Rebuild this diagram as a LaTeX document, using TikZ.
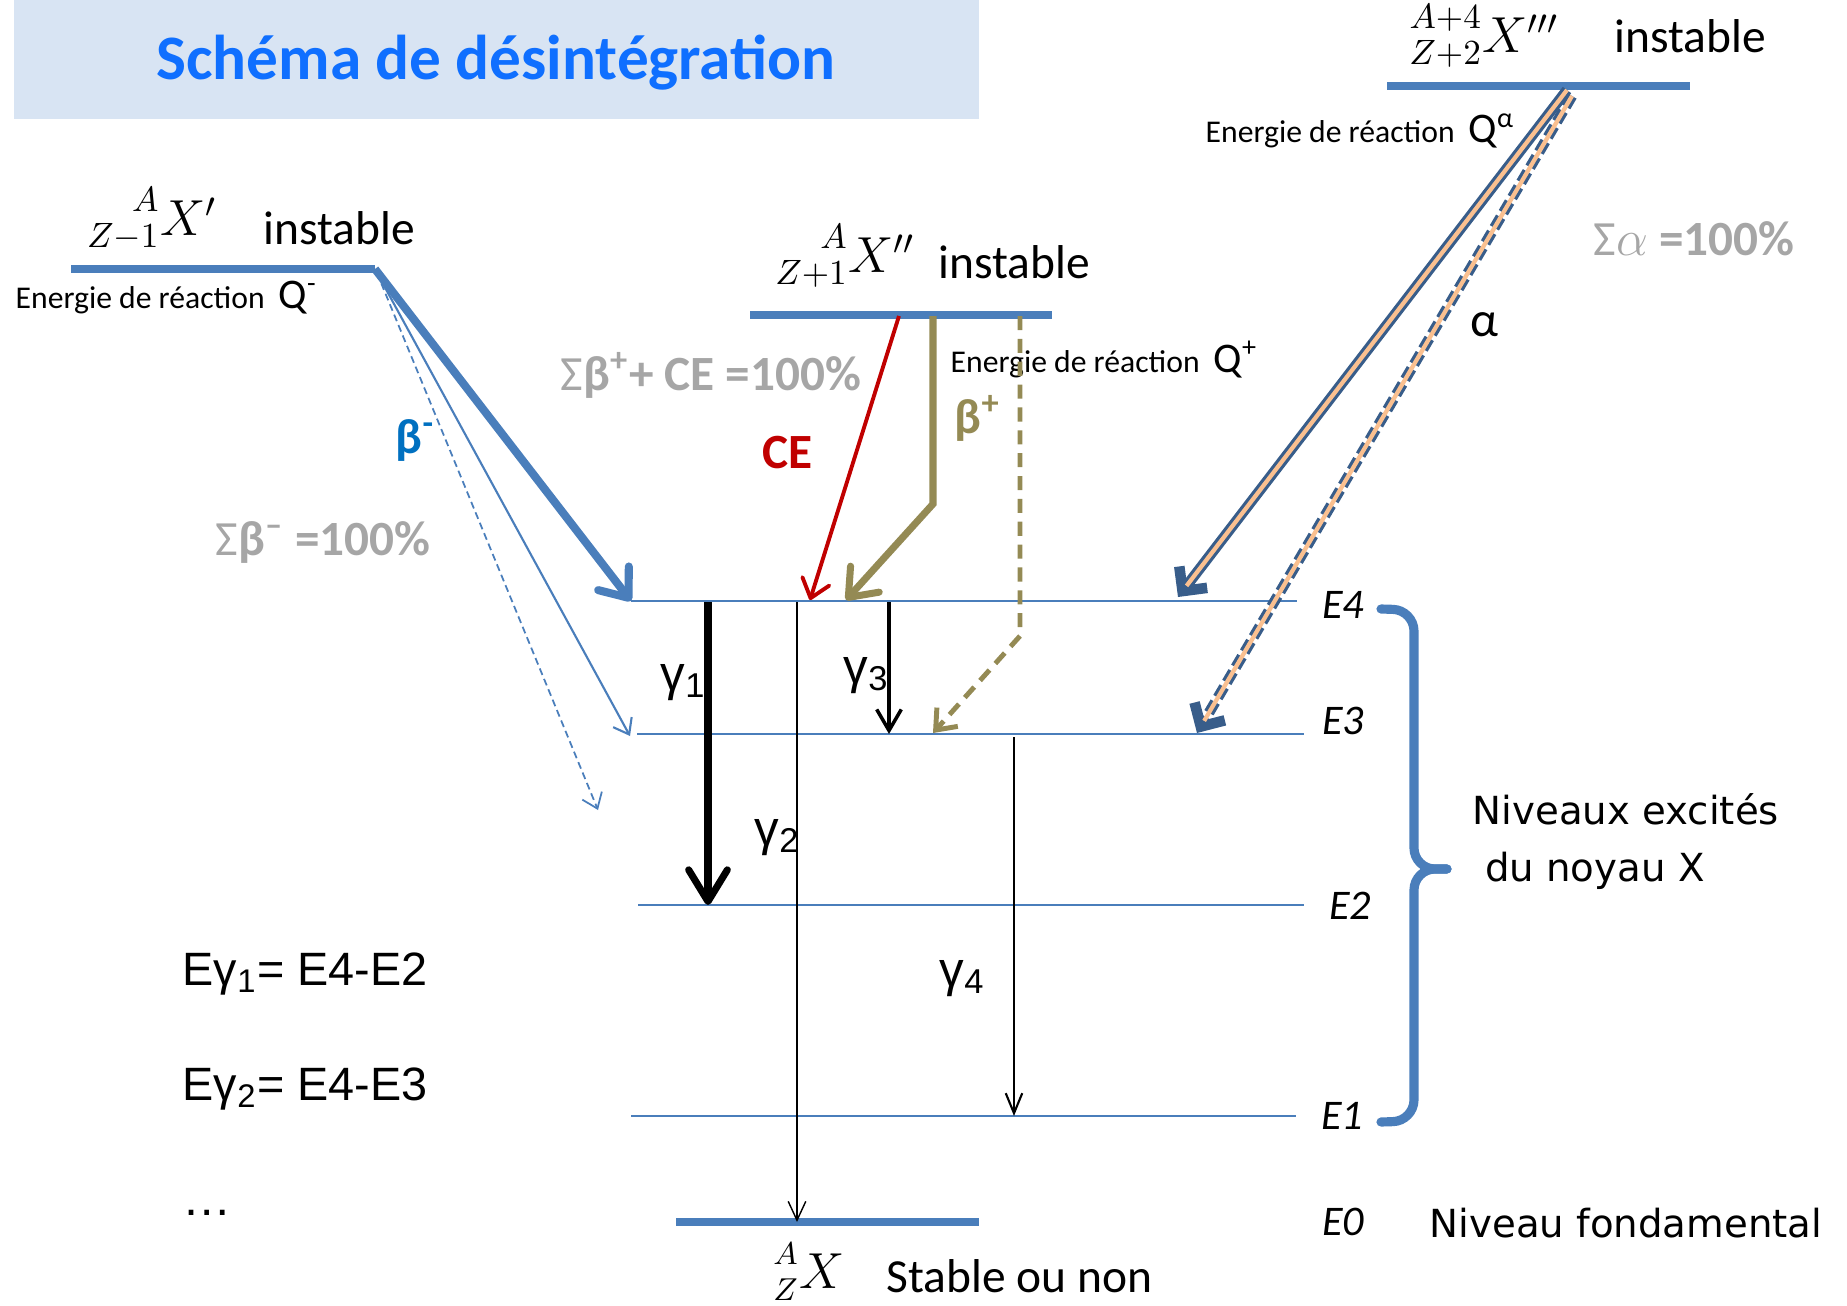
\documentclass[tikz,border=0pt]{standalone}
\usepackage{fontspec}
\usepackage{mathtools}
\setmainfont{Carlito}
\newfontfamily\arialfont{Liberation Sans}
\newfontfamily\verdanafont{DejaVu Sans}
\usetikzlibrary{arrows.meta}
\definecolor{DecayLevel}{HTML}{4A7EBB}
\definecolor{DecayBanner}{HTML}{D8E4F3}
\definecolor{DecayTitle}{HTML}{0F6FFF}
\definecolor{DecayGrey}{HTML}{A6A6A6}
\definecolor{DecayBeta}{HTML}{0070C0}
\definecolor{DecayRed}{HTML}{C00000}
\definecolor{DecayOlive}{HTML}{948A54}
\definecolor{DecayAlpha}{HTML}{385D8A}
\definecolor{DecayPeach}{HTML}{FAC090}

\begin{document}
\begin{tikzpicture}[x=0.01cm,y=-0.01cm,
    thick level/.style={DecayLevel,line width=2.4pt},
    thin level/.style={DecayLevel,line width=0.6pt},
    body/.style={inner sep=0pt,font=\fontsize{13.5}{16}\selectfont},
    small/.style={inner sep=0pt,font=\fontsize{9}{11}\selectfont},
    sigma/.style={inner sep=0pt,text=DecayGrey,font=\bfseries\fontsize{14}{16}\selectfont},
    gamma/.style={inner sep=0pt,font=\arialfont\fontsize{14}{16}\selectfont},
    energy/.style={inner sep=0pt,font=\itshape\fontsize{12}{14}\selectfont},
    nucleus/.style={inner sep=0pt,font=\fontsize{14.4}{16}\selectfont}]
  \useasboundingbox (0,0) rectangle (1847,1306);

  % banner
  \fill[DecayBanner] (14,0) rectangle (979,119);
  \node[anchor=base,inner sep=0pt,text=DecayTitle,
    font=\bfseries\fontsize{18}{20}\selectfont] (title) at (496,80)
    {Schéma de désintégration};

  % levels
  \coordinate (xpL) at (71,269);   \coordinate (xpR) at (375,269);
  \coordinate (xsL) at (750,315);  \coordinate (xsR) at (1052,315);
  \coordinate (xtL) at (1387,86);  \coordinate (xtR) at (1690,86);
  \coordinate (e4L) at (631,601);  \coordinate (e4R) at (1297,601);
  \coordinate (e3L) at (637,734);  \coordinate (e3R) at (1304,734);
  \coordinate (e2L) at (638,905);  \coordinate (e2R) at (1304,905);
  \coordinate (e1L) at (631,1116); \coordinate (e1R) at (1296,1116);
  \coordinate (e0L) at (676,1222); \coordinate (e0R) at (979,1222);
  \draw[thick level] (xpL) -- (xpR);
  \draw[thick level] (xsL) -- (xsR);
  \draw[thick level] (xtL) -- (xtR);
  \draw[thick level] (e0L) -- (e0R);
  \draw[thin level] (e4L) -- (e4R);
  \draw[thin level] (e3L) -- (e3R);
  \draw[thin level] (e2L) -- (e2R);
  \draw[thin level] (e1L) -- (e1R);

  % parent nuclei
  \node[nucleus] (xprime) at (152,219) {$\prescript{A}{Z-1}{X'}$};
  \node[body,anchor=base west] (instA) at (263,245) {instable};
  \node[small,anchor=base west] (qminus) at (15,308)
    {Energie de réaction\hspace{4pt}{\fontsize{12}{14}\selectfont Q\textsuperscript{-}}};
  \node[nucleus] (xsecond) at (845,256) {$\prescript{A}{Z+1}{X''}$};
  \node[body,anchor=base west] (instB) at (938,278) {instable};
  \node[small,anchor=base west] (qplus) at (950,372)
    {Energie de réaction\hspace{4pt}{\fontsize{12}{14}\selectfont Q\textsuperscript{+}}};
  \node[nucleus] (xthird) at (1484,36) {$\prescript{A+4}{Z+2}{X'''}$};
  \node[body,anchor=base west] (instC) at (1614,53) {instable};
  \node[small,anchor=base west] (qalpha) at (1205,143)
    {Energie de réaction\hspace{4pt}{\fontsize{12}{14}\selectfont Q\textsuperscript{α}}};

  % beta minus
  \coordinate (bmA) at (376,271); \coordinate (bmB) at (377,273);
  \coordinate (bm3) at (630,736); \coordinate (bmX) at (598,810);
  \draw[DecayLevel,line width=2.3pt,-{Straight Barb[round,length=7pt,width=11pt]}] (xpR) -- (e4L);
  \draw[DecayLevel,line width=0.6pt,-{Straight Barb[length=4pt,width=6pt]}] (bmA) -- (bm3);
  \draw[DecayLevel,line width=0.5pt,dash pattern=on 2pt off 1.2pt,
    -{Straight Barb[length=4pt,width=6pt]}] (bmB) -- (bmX);
  \node[anchor=base west,inner sep=0pt,text=DecayBeta,font=\bfseries\fontsize{14}{16}\selectfont]
    (betaminus) at (395,453) {β\textsuperscript{-}};
  \node[sigma,anchor=base west] (summinus) at (215,555) {{\mdseries Σ}β\textsuperscript{–} =100\%};

  % beta plus and electron capture
  \coordinate (ceA) at (899,316);  \coordinate (ceB) at (810,600);
  \coordinate (bpA) at (933,316);  \coordinate (bpK) at (933,504);  \coordinate (bpB) at (846,600);
  \coordinate (bqA) at (1020,316); \coordinate (bqK) at (1020,636); \coordinate (bqB) at (933,733);
  \draw[DecayRed,line width=1.1pt,-{Straight Barb[round,length=5pt,width=8pt]}] (ceA) -- (ceB);
  \draw[DecayOlive,line width=2pt,-{Straight Barb[round,length=7pt,width=11pt]}] (bpA) -- (bpK) -- (bpB);
  \draw[DecayOlive,line width=1.4pt,dash pattern=on 4pt off 2.5pt,
    -{Straight Barb[length=5pt,width=8pt]}] (bqA) -- (bqK) -- (bqB);
  \node[anchor=base west,inner sep=0pt,text=DecayRed,font=\bfseries\fontsize{14}{16}\selectfont]
    (ce) at (762,468) {CE};
  \node[anchor=base west,inner sep=0pt,text=DecayOlive,font=\bfseries\fontsize{14}{16}\selectfont]
    (betaplus) at (954,433) {β\textsuperscript{+}};
  \node[sigma,anchor=base west] (sumplus) at (560,390) {{\mdseries Σ}β\textsuperscript{+}+ CE =100\%};

  % alpha
  \coordinate (alA) at (1567,90); \coordinate (alB) at (1178,597);
  \coordinate (alC) at (1572,96); \coordinate (alD) at (1197,733);
  \draw[DecayAlpha,line width=3pt,-{Straight Barb[length=5pt,width=10pt]}] (alA) -- (alB);
  \draw[DecayPeach,line width=1.2pt,shorten >=4pt] (alA) -- (alB);
  \draw[DecayAlpha,line width=3pt,dash pattern=on 3.5pt off 1.5pt,
    -{Straight Barb[length=5pt,width=10pt]}] (alC) -- (alD);
  \draw[DecayPeach,line width=1.2pt,shorten >=4pt] (alC) -- (alD);
  \node[anchor=base west,inner sep=0pt,font=\fontsize{14}{16}\selectfont] (alpha) at (1470,336) {α};
  \node[sigma,anchor=base west] (sumalpha) at (1593,255) {{\mdseries Σ}$\alpha$ =100\%};

  % gamma transitions
  \coordinate (g1A) at (708,602);  \coordinate (g1B) at (708,905);
  \coordinate (g2A) at (797,602);  \coordinate (g2B) at (797,1222);
  \coordinate (g3A) at (889,602);  \coordinate (g3B) at (889,734);
  \coordinate (g4A) at (1014,737); \coordinate (g4B) at (1014,1116);
  \draw[line width=2pt,-{Straight Barb[round,length=9pt,width=11pt]}] (g1A) -- (g1B);
  \draw[line width=0.4pt,-{Straight Barb[length=5.4pt,width=5pt]}] (g2A) -- (g2B);
  \draw[line width=1pt,-{Straight Barb[length=6pt,width=7pt]}] (g3A) -- (g3B);
  \draw[line width=0.6pt,-{Straight Barb[length=5.7pt,width=4.7pt]}] (g4A) -- (g4B);
  \node[gamma,anchor=base west] (gam1) at (660,690) {γ\textsubscript{1}};
  \node[gamma,anchor=base west] (gam2) at (754,845) {γ\textsubscript{2}};
  \node[gamma,anchor=base west] (gam3) at (843,683) {γ\textsubscript{3}};
  \node[gamma,anchor=base west] (gam4) at (939,986) {γ\textsubscript{4}};
  \node[gamma,anchor=base west,font=\arialfont\fontsize{13.3}{16}\selectfont] (eg1) at (182,985) {Eγ\textsubscript{1}= E4-E2};
  \node[gamma,anchor=base west,font=\arialfont\fontsize{13.3}{16}\selectfont] (eg2) at (182,1100) {Eγ\textsubscript{2}= E4-E3};
  \node[gamma,anchor=base west] (dots) at (182,1215) {…};

  % level names
  \node[energy] (lab4) at (1343,605) {E4};
  \node[energy] (lab3) at (1343,721) {E3};
  \node[energy] (lab2) at (1350,906) {E2};
  \node[energy] (lab1) at (1342,1116) {E1};
  \node[energy] (lab0) at (1343,1222) {E0};

  % brace
  \coordinate (brT) at (1381,609); \coordinate (brM) at (1447,869); \coordinate (brB) at (1381,1122);
  \draw[DecayLevel,line width=2.6pt,line cap=round,rounded corners=6pt]
    (brT) -- (1414,610) -- (1414,869) -- (brM);
  \draw[DecayLevel,line width=2.6pt,line cap=round,rounded corners=6pt]
    (brM) -- (1414,869) -- (1414,1121) -- (brB);
  \node[anchor=base west,inner sep=0pt,align=left,font=\verdanafont\fontsize{11}{16}\selectfont]
    (excited) at (1472,881) {Niveaux excités\\\hspace*{3.5pt}du noyau X};
  \node[anchor=base west,inner sep=0pt,font=\verdanafont\fontsize{11}{16}\selectfont]
    (ground) at (1429,1237) {Niveau fondamental};

  % daughter
  \node[nucleus,font=\fontsize{13.5}{15}\selectfont] (xdaughter) at (809,1272) {$\prescript{A}{Z}{X}$};
  \node[body,anchor=base west] (stable) at (886,1292) {Stable ou non};
\end{tikzpicture}
\end{document}
